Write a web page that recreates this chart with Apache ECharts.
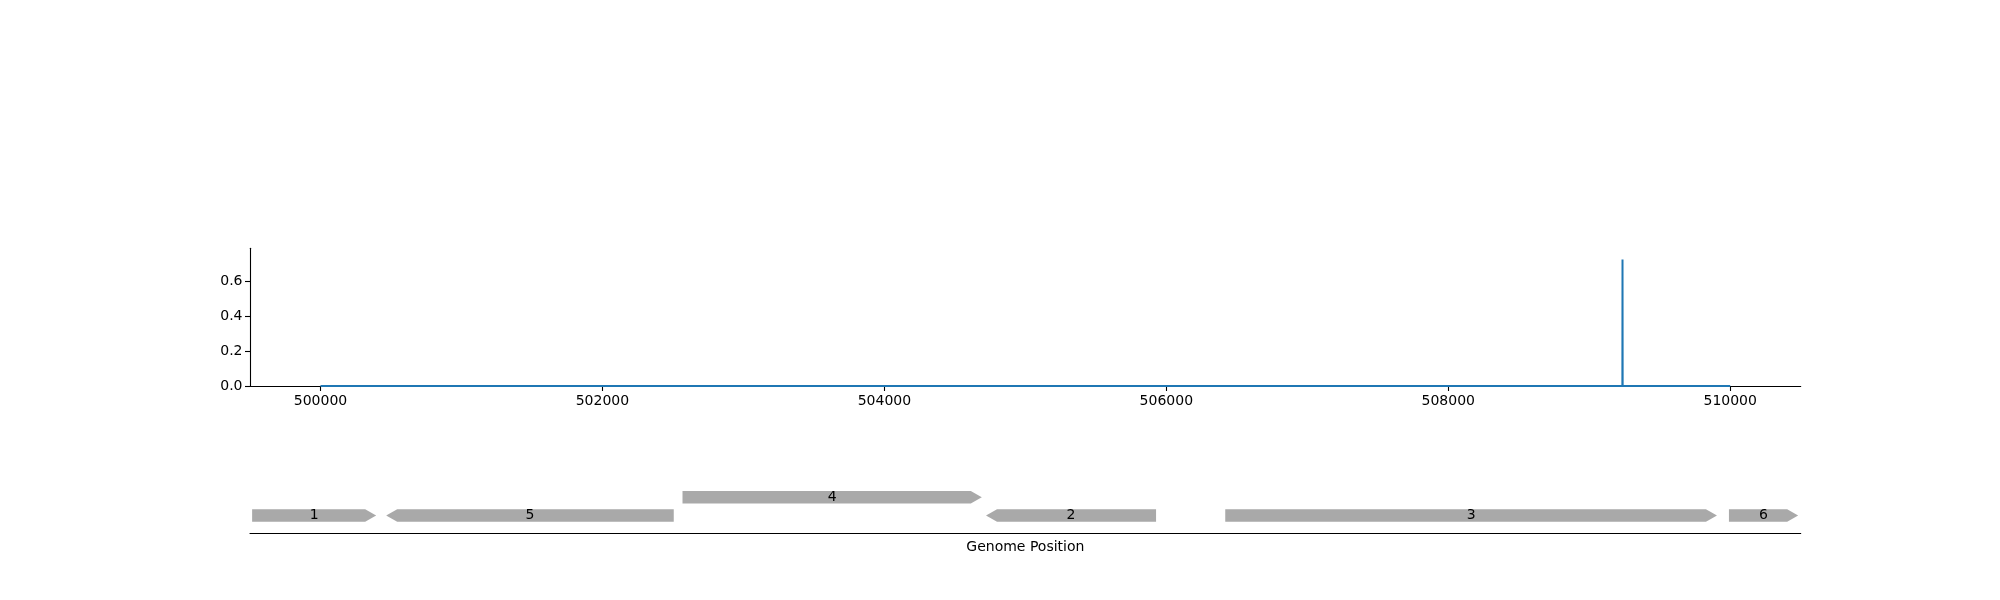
<!DOCTYPE html>
<html>
<head>
<meta charset="utf-8">
<script src="https://cdn.jsdelivr.net/npm/echarts@6/dist/echarts.min.js"></script>
<style>html,body{margin:0;padding:0;background:#fff}#c{width:2000px;height:600px}</style>
</head>
<body>
<div id="c"></div>
<script>
// Coverage track data
const positions = [500000, 509235, 509236, 509237, 510000];
const coverage  = [0, 0, 0.726, 0, 0];
const xTicks = [500000, 502000, 504000, 506000, 508000, 510000];
const yTicks = [0, 0.2, 0.4, 0.6];

// Gene annotation data
const geneNames  = ['1', '5', '4', '2', '3', '6'];
const geneStarts = [499515, 500466, 502568, 504721, 506418, 509991];
const geneEnds   = [500395, 502506, 504691, 505927, 509906, 510482];
const geneStrand = [1, -1, 1, -1, 1, 1];
const geneRow    = [0, 0, 1, 0, 0, 0];

const FONT = 'DejaVu Sans';
const chart = echarts.init(document.getElementById('c'), null, {renderer: 'canvas'});

const covData = positions.map((p, i) => [p, coverage[i]]);
const geneData = geneNames.map((n, i) => [geneStarts[i], geneEnds[i], geneRow[i], geneStrand[i], n]);

chart.setOption({
  animation: false,
  backgroundColor: '#fff',
  grid: [
    {left: 250, right: 199.3, top: 248.3, height: 137.7},
    {left: 250, right: 199.3, top: 479.1, height: 54.6}
  ],
  xAxis: [
    {
      type: 'value', gridIndex: 0, min: 499500, max: 510500,
      splitLine: {show: false},
      axisLine: {show: true, onZero: false, lineStyle: {color: '#000', width: 1.1}},
      axisTick: {show: true, length: 5, lineStyle: {color: '#000', width: 1.1}, customValues: xTicks},
      axisLabel: {show: true, color: '#000', fontSize: 14, fontFamily: FONT, margin: 8,
        customValues: xTicks, formatter: v => String(v)}
    },
    {
      type: 'value', gridIndex: 1, min: 499500, max: 510500,
      splitLine: {show: false},
      axisLine: {show: true, onZero: false, lineStyle: {color: '#000', width: 1.1}},
      axisTick: {show: false}, axisLabel: {show: false},
      name: 'Genome Position', nameLocation: 'middle', nameGap: 7,
      nameTextStyle: {color: '#000', fontSize: 14, fontFamily: FONT}
    }
  ],
  yAxis: [
    {
      type: 'value', gridIndex: 0, min: 0, max: 0.79,
      splitLine: {show: false},
      axisLine: {show: true, lineStyle: {color: '#000', width: 1.1}},
      axisTick: {show: true, length: 5, lineStyle: {color: '#000', width: 1.1}, customValues: yTicks},
      axisLabel: {show: true, color: '#000', fontSize: 14, fontFamily: FONT, margin: 7.5,
        customValues: yTicks, formatter: v => v.toFixed(1)}
    },
    {
      type: 'value', gridIndex: 1, min: -1, max: 2, show: false
    }
  ],
  series: [
    {
      type: 'line', xAxisIndex: 0, yAxisIndex: 0, data: covData,
      showSymbol: false, symbol: 'none',
      lineStyle: {color: '#1f77b4', width: 2}, z: 5
    },
    {
      type: 'custom', xAxisIndex: 1, yAxisIndex: 1, data: geneData,
      renderItem: function (params, api) {
        const x0 = api.value(0), x1 = api.value(1), row = api.value(2), strand = api.value(3);
        const p0 = api.coord([x0, row]);
        const p1 = api.coord([x1, row]);
        const hh = 6.2, head = 11;
        const y = p0[1];
        let pts;
        if (strand > 0) {
          const b = p1[0] - head;
          pts = [[p0[0], y - hh], [b, y - hh], [p1[0], y], [b, y + hh], [p0[0], y + hh]];
        } else {
          const b = p0[0] + head;
          pts = [[p0[0], y], [b, y - hh], [p1[0], y - hh], [p1[0], y + hh], [b, y + hh]];
        }
        return {
          type: 'group',
          children: [
            {type: 'polygon', shape: {points: pts}, style: {fill: '#a9a9a9', stroke: null}},
            {type: 'text', x: (p0[0] + p1[0]) / 2, y: y,
              style: {text: api.value(4), fill: '#000', font: '14px "DejaVu Sans"', align: 'center', verticalAlign: 'middle'}}
          ]
        };
      }
    }
  ]
});
</script>
</body>
</html>
